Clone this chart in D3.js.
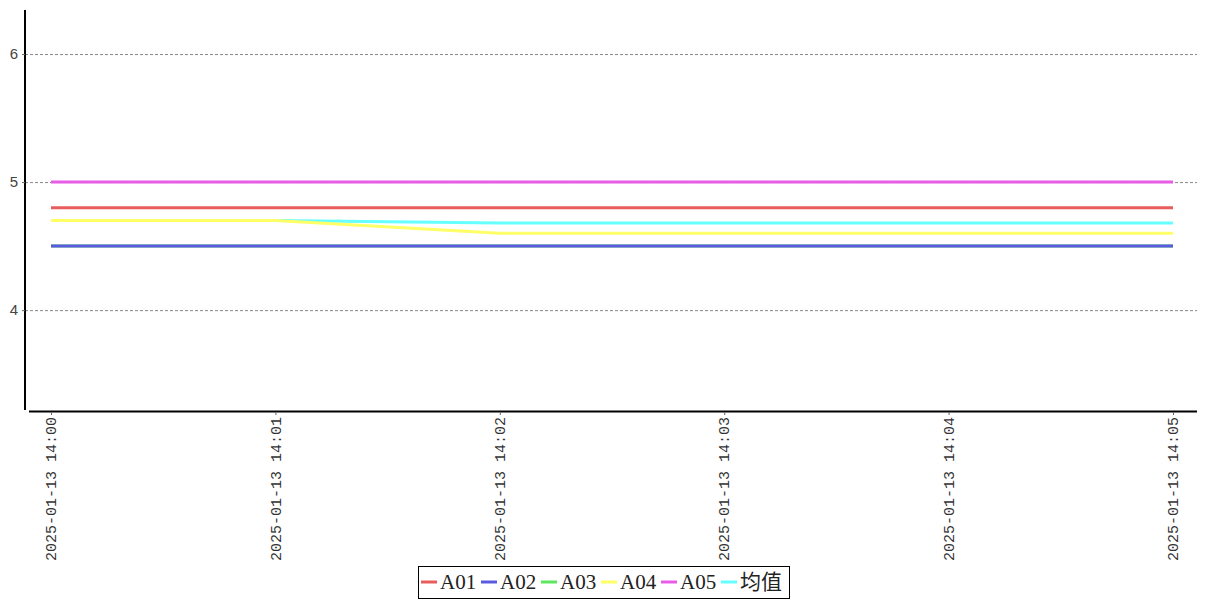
<!DOCTYPE html>
<html><head><meta charset="utf-8">
<script src="https://cdn.jsdelivr.net/npm/d3@7"></script>
<style>body{margin:0;background:#fff}</style>
</head><body>
<svg id="c" width="1207" height="600"></svg>
<script>
const times = ["2025-01-13 14:00","2025-01-13 14:01","2025-01-13 14:02","2025-01-13 14:03","2025-01-13 14:04","2025-01-13 14:05"];
const seriesNames = ["A01","A02","A03","A04","A05","均值"];
const A01 = [4.8,4.8,4.8,4.8,4.8,4.8];
const A02 = [4.5,4.5,4.5,4.5,4.5,4.5];
const A03 = [4.5,4.5,4.5,4.5,4.5,4.5];
const A04 = [4.7,4.7,4.6,4.6,4.6,4.6];
const A05 = [5,5,5,5,5,5];
const MEAN = [4.7,4.7,4.68,4.68,4.68,4.68];
const yTicks = [4,5,6];
const colors = ["#e85c5c","#5a5ae0","#5ce85c","#ffff66","#e85ce8","#66ffff"];
const values = [A01,A02,A03,A04,A05,MEAN];

const svg = d3.select("#c");
const x = d3.scalePoint().domain(times).range([51,1173]);
const y = d3.scaleLinear().domain([3.22,6.344]).range([410,10]);

// grid
svg.append("g").selectAll("line").data(yTicks).join("line")
  .attr("x1",25).attr("x2",1197).attr("y1",d=>y(d)+0.5).attr("y2",d=>y(d)+0.5)
  .attr("stroke","#888").attr("stroke-width",1).attr("stroke-dasharray","3,2");

// lines (drawn in reverse order)
const line = d3.line().x((d,i)=>x(times[i])).y(d=>y(d));
const order = d3.range(values.length).reverse();
svg.append("g").selectAll("path").data(order).join("path")
  .attr("d",i=>line(values[i])).attr("fill","none")
  .attr("stroke",i=>colors[i]).attr("stroke-width",3);

// y axis
const yAxis = svg.append("g");
yAxis.append("line").attr("x1",25).attr("x2",25).attr("y1",10).attr("y2",410).attr("stroke","#000").attr("stroke-width",2);
yAxis.selectAll("line.t").data(yTicks).join("line").attr("class","t")
  .attr("x1",22).attr("x2",25).attr("y1",d=>y(d)+0.5).attr("y2",d=>y(d)+0.5).attr("stroke","#666");
yAxis.selectAll("text").data(yTicks).join("text")
  .attr("x",18).attr("y",d=>y(d)).attr("dy","0.35em").attr("text-anchor","end")
  .attr("font-family","Liberation Sans, sans-serif").attr("font-size",15).attr("fill","#444").text(d=>d);

// x axis
const xAxis = svg.append("g");
xAxis.append("line").attr("x1",29).attr("x2",1197).attr("y1",411.5).attr("y2",411.5).attr("stroke","#000").attr("stroke-width",2);
xAxis.selectAll("line.t").data(times).join("line").attr("class","t")
  .attr("x1",d=>x(d)+0.5).attr("x2",d=>x(d)+0.5).attr("y1",412).attr("y2",415).attr("stroke","#666");
xAxis.selectAll("text").data(times).join("text")
  .attr("transform",d=>`translate(${x(d)},417) rotate(-90)`)
  .attr("dy","0.35em").attr("text-anchor","end")
  .attr("font-family","Liberation Mono, monospace").attr("font-size",15).attr("fill","#333")
  .text(d=>d);

// legend
const lg = svg.append("g");
lg.append("rect").attr("x",418.5).attr("y",566.5).attr("width",371).attr("height",32)
  .attr("fill","#fff").attr("stroke","#000").attr("stroke-width",1);
const items = lg.selectAll("g").data(seriesNames).join("g")
  .attr("transform",(d,i)=>`translate(${421+i*60},582)`);
items.append("line").attr("x1",0).attr("x2",16).attr("y1",0).attr("y2",0)
  .attr("stroke",(d,i)=>colors[i]).attr("stroke-width",3);
items.append("text").attr("x",19).attr("y",0).attr("dy","0.35em")
  .attr("font-family","Liberation Serif, 'Noto Sans CJK SC', serif").attr("font-size",21).attr("fill","#222")
  .text(d=>d);
</script>
</body></html>
